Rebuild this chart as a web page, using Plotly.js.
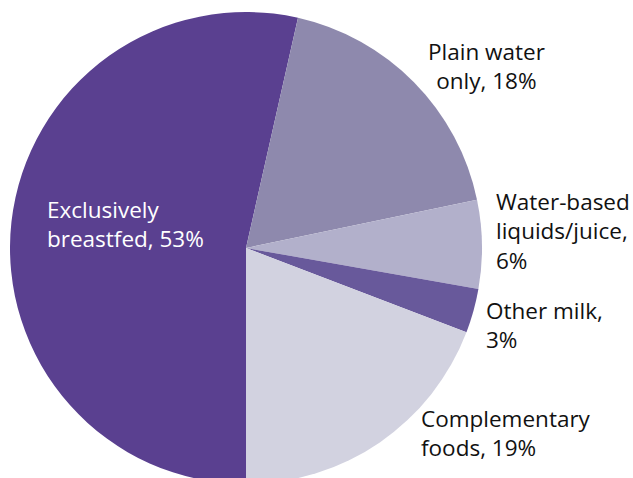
<!DOCTYPE html>
<html>
<head>
<meta charset="utf-8">
<script src="https://cdn.plot.ly/plotly-3.0.1.min.js"></script>
<style>
html,body{margin:0;padding:0;overflow:hidden;background:#fff;}
#chart{width:633px;height:496px;}
</style>
</head>
<body>
<div id="chart"></div>
<script>
// Data
const categories = ["Exclusively breastfed", "Plain water only", "Water-based liquids/juice", "Other milk", "Complementary foods"];
const values = [53, 18, 6, 3, 19];
const labelLines = [
  ["Exclusively", "breastfed, 53%"],
  ["Plain water", "only, 18%"],
  ["Water-based", "liquids/juice,", "6%"],
  ["Other milk,", "3%"],
  ["Complementary", "foods, 19%"]
];
const colors = ["#5a4090", "#8e89ad", "#b2b0cb", "#68599b", "#d2d2e0"];

const W = 633, H = 496;
const cx = 246, cy = 248, R = 236;

const trace = {
  type: "pie",
  labels: categories,
  values: values,
  sort: false,
  direction: "clockwise",
  rotation: 180,
  marker: {colors: colors, line: {width: 0}},
  textinfo: "none",
  hoverinfo: "label+value",
  showlegend: false,
  domain: {x: [(cx - R) / W, (cx + R) / W], y: [(H - cy - R) / H, (H - cy + R) / H]}
};

// label placement: [x(px), y-center(px), xanchor, align, color]
const place = [
  [45, 224, "left", "left", "#ffffff"],
  [486, 66, "center", "center", "#111111"],
  [494, 231, "left", "left", "#111111"],
  [484, 325, "left", "left", "#111111"],
  [419, 433, "left", "left", "#111111"]
];

const annotations = labelLines.map((lines, i) => ({
  xref: "paper", yref: "paper",
  x: place[i][0] / W, y: 1 - place[i][1] / H,
  xanchor: place[i][2], yanchor: "middle", align: place[i][3],
  text: lines.join("<br>"),
  showarrow: false,
  font: {family: "'Open Sans', 'Noto Sans', sans-serif", size: 22.5, color: place[i][4]}
}));

const layout = {
  width: W, height: H,
  margin: {l: 0, r: 0, t: 0, b: 0},
  paper_bgcolor: "#ffffff",
  plot_bgcolor: "#ffffff",
  annotations: annotations
};

Plotly.newPlot("chart", [trace], layout, {displayModeBar: false, staticPlot: true});
</script>
</body>
</html>
